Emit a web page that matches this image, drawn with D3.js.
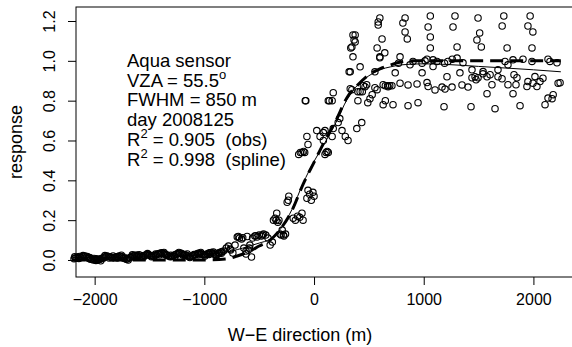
<!DOCTYPE html>
<html>
<head>
<meta charset="utf-8">
<script src="https://cdn.jsdelivr.net/npm/d3@7"></script>
<style>
  body { margin: 0; background: #fff; }
  svg { font-family: "Liberation Sans", Arial, Helvetica, sans-serif; }
</style>
</head>
<body>
<div id="chart"></div>
<script>
// observed response, flat part west of the edge
var flatPoints = [
  [-2175, 0.010], [-2150, 0.015], [-2125, 0.012], [-2100, 0.018], [-2075, 0.014],
  [-2050, 0.008], [-2025, 0.005], [-2000, 0.002], [-1975, 0.000], [-1950, 0.004],
  [-1925, 0.010], [-1900, 0.016], [-1875, 0.018], [-1850, 0.014], [-1825, 0.012],
  [-1800, 0.016], [-1775, 0.020], [-1750, 0.015], [-1725, 0.008], [-1700, 0.006],
  [-1675, 0.012], [-1650, 0.020], [-1625, 0.024], [-1600, 0.020], [-1575, 0.018],
  [-1550, 0.022], [-1525, 0.026], [-1500, 0.024], [-1475, 0.020], [-1450, 0.022],
  [-1425, 0.030], [-1400, 0.034], [-1375, 0.032], [-1350, 0.028], [-1325, 0.020],
  [-1300, 0.018], [-1275, 0.024], [-1250, 0.030], [-1225, 0.034], [-1200, 0.030],
  [-1175, 0.026], [-1150, 0.020], [-1125, 0.018], [-1100, 0.022], [-1075, 0.028],
  [-1050, 0.034], [-1025, 0.030], [-1000, 0.026], [-975, 0.030], [-950, 0.036],
  [-925, 0.034], [-900, 0.028], [-875, 0.030], [-850, 0.040], [-825, 0.045]
];
// second pass over the same strip (neighbouring pixels)
var flatPoints2 = [
  [-2188, 0.006], [-2162, 0.012], [-2138, 0.018], [-2112, 0.014], [-2088, 0.020],
  [-2062, 0.010], [-2038, 0.004], [-2012, 0.000], [-1988, -0.002], [-1962, 0.002],
  [-1938, 0.008], [-1912, 0.014], [-1888, 0.020], [-1862, 0.016], [-1838, 0.010],
  [-1812, 0.014], [-1788, 0.018], [-1762, 0.018], [-1738, 0.010], [-1712, 0.004],
  [-1688, 0.010], [-1662, 0.016], [-1638, 0.022], [-1612, 0.024], [-1588, 0.016],
  [-1562, 0.020], [-1538, 0.024], [-1512, 0.028], [-1488, 0.022], [-1462, 0.018],
  [-1438, 0.026], [-1412, 0.032], [-1388, 0.036], [-1362, 0.030], [-1338, 0.024],
  [-1312, 0.016], [-1288, 0.020], [-1262, 0.028], [-1238, 0.032], [-1212, 0.034],
  [-1188, 0.028], [-1162, 0.022], [-1138, 0.016], [-1112, 0.020], [-1088, 0.026],
  [-1062, 0.032], [-1038, 0.032], [-1012, 0.028], [-988, 0.026], [-962, 0.034],
  [-938, 0.038], [-912, 0.030], [-888, 0.026], [-862, 0.034], [-838, 0.042]
];
// third pass, spread a little above and below
var flatPoints3 = [
  [-2182, 0.016], [-2144, 0.008], [-2106, 0.022], [-2068, 0.018], [-2044, 0.012],
  [-2006, 0.008], [-1982, 0.006], [-1944, -0.004], [-1906, 0.022], [-1868, 0.010],
  [-1832, 0.020], [-1794, 0.010], [-1756, 0.024], [-1732, 0.014], [-1694, 0.000],
  [-1656, 0.026], [-1618, 0.016], [-1594, 0.026], [-1556, 0.014], [-1518, 0.032],
  [-1482, 0.016], [-1444, 0.030], [-1406, 0.026], [-1368, 0.038], [-1344, 0.022],
  [-1306, 0.024], [-1268, 0.016], [-1232, 0.038], [-1194, 0.024], [-1156, 0.030],
  [-1132, 0.012], [-1094, 0.028], [-1056, 0.026], [-1032, 0.038], [-994, 0.020],
  [-956, 0.028], [-918, 0.040], [-894, 0.022], [-868, 0.036], [-844, 0.034]
];

// rising part
var risePoints = [
  [-800, 0.060], [-780, 0.070], [-760, 0.050], [-740, 0.035], [-720, 0.075],
  [-700, 0.115], [-680, 0.110], [-660, 0.105], [-640, 0.060], [-620, 0.030],
  [-600, 0.050], [-585, 0.075], [-570, 0.015], [-560, 0.110], [-540, 0.120],
  [-520, 0.115], [-500, 0.125], [-480, 0.120], [-460, 0.130], [-440, 0.125],
  [-420, 0.110], [-400, 0.075], [-380, 0.090], [-370, 0.200], [-355, 0.210],
  [-340, 0.235], [-330, 0.190], [-320, 0.200], [-310, 0.130], [-300, 0.125],
  [-290, 0.150], [-275, 0.120], [-260, 0.130], [-245, 0.290], [-235, 0.300],
  [-230, 0.320], [-190, 0.210], [-170, 0.200], [-150, 0.220], [-130, 0.215],
  [-110, 0.235], [-100, 0.200], [-65, 0.310], [-55, 0.350], [-40, 0.330],
  [-25, 0.300], [-10, 0.340], [0, 0.320],
  [-690, 0.118], [-650, 0.112], [-610, 0.118], [-530, 0.122], [-470, 0.126],
  [-765, 0.055], [-620, 0.045], [-590, 0.060], [-345, 0.200], [-280, 0.125],
  [-140, 0.530], [-125, 0.540], [-110, 0.540], [-95, 0.545], [-85, 0.540],
  [100, 0.530], [110, 0.540], [120, 0.545], [130, 0.540],
  [-55, 0.580], [-65, 0.620], [25, 0.650], [55, 0.620], [85, 0.640],
  [85, 0.600], [100, 0.650], [165, 0.620], [175, 0.660], [220, 0.690],
  [235, 0.710], [255, 0.650], [285, 0.620], [310, 0.600], [390, 0.660], [435, 0.690]
];

// knee and plateau
var plateauPoints = [
  [-80, 0.800], [-75, 0.800], [130, 0.800], [140, 0.800], [165, 0.800],
  [175, 0.840], [330, 0.860], [345, 0.855], [400, 0.800], [400, 0.845],
  [420, 0.845], [440, 0.845], [465, 0.870], [480, 0.880], [490, 0.790],
  [510, 0.810], [530, 0.830], [555, 0.865], [575, 0.855], [630, 0.780],
  [630, 0.880], [675, 0.870], [320, 0.945], [330, 0.945], [555, 0.945], [420, 0.970],
  [450, 0.875], [650, 0.875], [670, 0.875], [690, 0.875], [710, 0.875],
  [335, 1.065], [345, 1.070], [355, 1.020], [375, 1.095], [375, 1.130],
  [355, 1.130], [365, 1.105], [575, 1.065], [600, 1.020], [600, 1.015],
  [645, 1.040], [620, 1.110], [585, 1.180], [585, 1.195], [600, 1.215],
  [810, 1.190], [830, 1.215], [830, 1.145], [850, 1.110],
  [1060, 1.225], [1040, 1.170], [1060, 1.120], [1060, 1.065],
  [1285, 1.225], [1267, 1.170], [1304, 1.070],
  [1495, 1.215], [1510, 1.140], [1485, 1.105], [1525, 1.070],
  [1730, 1.225], [1715, 1.175], [1760, 1.065],
  [1970, 1.225], [1950, 1.175], [1995, 1.145], [1987, 1.065],
  [784, 1.020], [770, 0.988], [875, 0.980], [902, 0.997], [985, 0.988],
  [1012, 1.000], [1030, 1.008], [1085, 0.971], [1085, 1.005], [1121, 0.997],
  [1190, 0.988], [1220, 0.997], [1260, 1.008], [1304, 1.014], [1358, 0.990],
  [1440, 0.955], [1541, 0.946], [1677, 0.955], [1741, 0.997], [1768, 0.980],
  [1814, 1.005], [1905, 1.008], [1987, 0.997], [2133, 1.008], [2151, 0.997],
  [2215, 0.990],
  [740, 0.940], [985, 0.940], [1212, 0.920], [1330, 0.940], [1440, 0.915],
  [1477, 0.905], [784, 0.888], [857, 0.879], [939, 0.884], [1030, 0.891],
  [1040, 0.871], [1103, 0.854], [1167, 0.868], [1194, 0.858], [1258, 0.868],
  [1349, 0.879], [1404, 0.868], [1468, 0.920], [1495, 0.915], [1540, 0.935],
  [1577, 0.920], [1605, 0.930], [1622, 0.880], [1677, 0.920], [1714, 0.910],
  [1768, 0.880], [1823, 0.930], [1850, 0.915], [1841, 0.880], [1941, 0.871],
  [1950, 0.896], [1996, 0.888], [2014, 0.921], [2032, 0.871], [2060, 0.896],
  [2087, 0.913], [2225, 0.888], [2243, 0.890],
  [1577, 0.835], [1814, 0.835], [2180, 0.830], [2170, 0.810], [2133, 0.813],
  [1650, 0.760], [1878, 0.775], [2106, 0.780],
  [650, 0.800], [720, 0.780], [857, 0.775], [948, 0.790], [1185, 0.770], [1431, 0.770]
];

// fitted curves
var splineX = [-2200, -2000, -1800, -1600, -1400, -1200, -1000, -900, -800, -700, -600, -500,
  -400, -300, -200, -100, 0, 100, 200, 300, 400, 500, 600, 700, 800, 1000, 1200, 1500, 2000, 2250];
var splineY = [0.012, 0.012, 0.013, 0.015, 0.018, 0.022, 0.028, 0.033, 0.040, 0.052, 0.068, 0.085,
  0.105, 0.160, 0.255, 0.385, 0.495, 0.590, 0.690, 0.805, 0.880, 0.925, 0.955, 0.970, 0.980, 0.985, 0.982, 0.972, 0.955, 0.945];
var modelX = [-2200, -1000, -800, -700, -600, -500, -400, -300, -200, -100, 0, 100, 200,
  300, 400, 500, 600, 700, 800, 900, 2250];
var modelY = [0.000, 0.000, 0.005, 0.020, 0.040, 0.070, 0.100, 0.160, 0.250, 0.380, 0.490, 0.600, 0.700,
  0.815, 0.880, 0.930, 0.960, 0.980, 0.995, 1.000, 1.000];

var xTicks = [-2000, -1000, 0, 1000, 2000];
var yTicks = [0, 0.2, 0.4, 0.6, 0.8, 1.0, 1.2];

function init() {
  var w = 572;
  var h = 347;
  var left = 76, right = 600, top = 7, bottom = 277;

  var xScale = d3.scaleLinear()
    .domain([-2170, 2607])
    .range([left, right]);
  var yScale = d3.scaleLinear()
    .domain([-0.0854, 1.2703])
    .range([bottom, top]);

  var svg = d3.select("#chart")
    .append("svg")
    .attr("width", w)
    .attr("height", h);

  var allPoints = flatPoints.concat(flatPoints2, flatPoints3, risePoints, plateauPoints);

  svg.append("g")
    .selectAll("circle")
    .data(allPoints)
    .enter()
    .append("circle")
    .attr("cx", function(d) { return xScale(d[0]); })
    .attr("cy", function(d) { return yScale(d[1]); })
    .attr("r", 3.2)
    .attr("fill", "none")
    .attr("stroke", "#000")
    .attr("stroke-width", 1.1);

  var line = d3.line()
    .x(function(d) { return xScale(d[0]); })
    .y(function(d) { return yScale(d[1]); })
    .curve(d3.curveMonotoneX);

  svg.append("path")
    .datum(modelX.map(function(x, i) { return [x, modelY[i]]; }))
    .attr("d", line)
    .attr("fill", "none")
    .attr("stroke", "#000")
    .attr("stroke-width", 3)
    .attr("stroke-dasharray", "13,7");

  svg.append("path")
    .datum(splineX.map(function(x, i) { return [x, splineY[i]]; }))
    .attr("d", line)
    .attr("fill", "none")
    .attr("stroke", "#000")
    .attr("stroke-width", 1);

  svg.append("rect")
    .attr("x", left)
    .attr("y", top)
    .attr("width", right - left)
    .attr("height", bottom - top)
    .attr("fill", "none")
    .attr("stroke", "#000")
    .attr("stroke-width", 1);

  var xAxis = d3.axisBottom(xScale)
    .tickValues(xTicks)
    .tickSize(8)
    .tickPadding(9)
    .tickFormat(d3.format("d"));
  var gx = svg.append("g")
    .attr("transform", "translate(0," + bottom + ")")
    .call(xAxis);
  gx.select(".domain").remove();
  gx.selectAll("text")
    .attr("font-size", 16)
    .attr("font-family", "Liberation Sans, Arial, sans-serif")
    .attr("fill", "#000");

  var yAxis = d3.axisLeft(yScale)
    .tickValues(yTicks)
    .tickSize(8)
    .tickFormat(d3.format(".1f"));
  var gy = svg.append("g")
    .attr("transform", "translate(" + left + ",0)")
    .call(yAxis);
  gy.select(".domain").remove();
  gy.selectAll("text")
    .attr("font-size", 16)
    .attr("font-family", "Liberation Sans, Arial, sans-serif")
    .attr("fill", "#000")
    .attr("text-anchor", "middle")
    .attr("dy", null)
    .attr("x", null)
    .attr("transform", "translate(-21,0) rotate(-90)");

  svg.append("text")
    .attr("x", 300)
    .attr("y", 341)
    .attr("text-anchor", "middle")
    .attr("font-size", 18)
    .text("W\u2212E direction (m)");

  svg.append("text")
    .attr("transform", "translate(22,142) rotate(-90)")
    .attr("text-anchor", "middle")
    .attr("font-size", 18)
    .text("response");

  // annotation block
  var note = svg.append("text")
    .attr("font-size", 18.5)
    .attr("x", 127)
    .attr("y", 67);
  note.append("tspan").attr("x", 127).attr("y", 67).text("Aqua sensor");
  var l2 = note.append("tspan").attr("x", 127).attr("y", 86.5);
  l2.append("tspan").text("VZA = 55.5");
  l2.append("tspan").attr("font-size", 13).attr("dy", -8).text("o");
  note.append("tspan").attr("x", 127).attr("y", 106).text("FWHM = 850 m");
  note.append("tspan").attr("x", 127).attr("y", 126).text("day 2008125");
  var l5 = note.append("tspan").attr("x", 127).attr("y", 146);
  l5.append("tspan").text("R");
  l5.append("tspan").attr("font-size", 13).attr("dy", -8).text("2");
  l5.append("tspan").attr("dy", 8).text(" = 0.905 \u00a0(obs)");
  var l6 = note.append("tspan").attr("x", 127).attr("y", 166);
  l6.append("tspan").text("R");
  l6.append("tspan").attr("font-size", 13).attr("dy", -8).text("2");
  l6.append("tspan").attr("dy", 8).text(" = 0.998 \u00a0(spline)");
}

window.onload = init;
</script>
</body>
</html>
